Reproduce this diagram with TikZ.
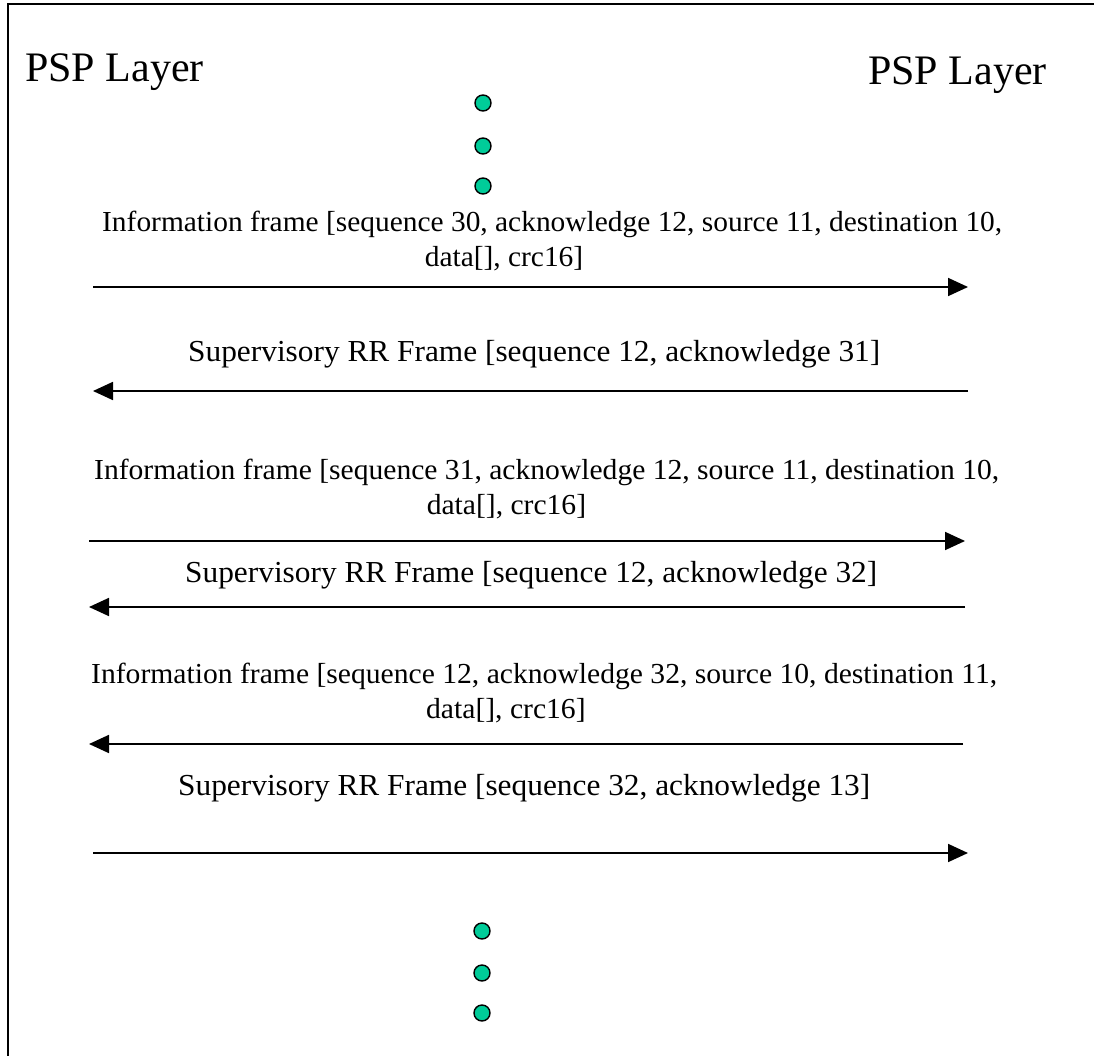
\documentclass[tikz,border=0pt]{standalone}
\usepackage{fontspec}
\usepackage{graphicx}
\setmainfont{Liberation Serif}
\usetikzlibrary{arrows.meta}

\definecolor{dotfill}{RGB}{0,204,153}

% a label set to a given width, first baseline kept
\newcommand{\widelabel}[2]{%
  \resizebox{#1}{\height}{\begin{tabular}[t]{@{}l@{}}#2\end{tabular}}}

\tikzset{
  frameline/.style={line width=2.8pt, black},
  layer/.style={font=\fontsize{42}{46}\selectfont, inner sep=0pt, anchor=base west},
  infomsg/.style={font=\fontsize{29}{35}\selectfont, inner sep=0pt, anchor=base west},
  supmsg/.style={font=\fontsize{30.5}{35}\selectfont, inner sep=0pt, anchor=base west},
  msgarrow/.style={line width=1.8pt, -{Triangle[length=20pt,width=18pt]}},
  ellipsisdot/.style={circle, draw=black, line width=1.4pt, fill=dotfill,
                      minimum size=16pt, inner sep=0pt}
}

\begin{document}
\begin{tikzpicture}[x=1pt, y=-1pt]
  \useasboundingbox (0,0) rectangle (1094,1056);

  % open frame: top and left edges only
  \draw[frameline] (8,1056) -- (8,4) -- (1094,4);

  % layer labels
  \node[layer] (pspL) at (25,82) {PSP Layer};
  \node[layer] (pspR) at (868,85) {PSP Layer};

  % continuation dots, top
  \node[ellipsisdot] (t1) at (483,103) {};
  \node[ellipsisdot] (t2) at (483,146) {};
  \node[ellipsisdot] (t3) at (483,186) {};

  % message 1: information frame, left to right
  \node[infomsg] (m1) at (102,232) {\widelabel{900pt}{Information frame [sequence 30, acknowledge 12, source 11, destination 10,\\ \hspace*{318pt}data[], crc16]}};
  \coordinate (a1s) at (93,287);
  \coordinate (a1e) at (968,287);
  \draw[msgarrow] (a1s) -- (a1e);

  % message 2: supervisory frame, right to left
  \node[supmsg] (m2) at (188,361) {\widelabel{692pt}{Supervisory RR Frame [sequence 12, acknowledge 31]}};
  \coordinate (a2s) at (968,391);
  \coordinate (a2e) at (93,391);
  \draw[msgarrow] (a2s) -- (a2e);

  % message 3: information frame, left to right
  \node[infomsg] (m3) at (94,479) {\widelabel{905pt}{Information frame [sequence 31, acknowledge 12, source 11, destination 10,\\ \hspace*{326pt}data[], crc16]}};
  \coordinate (a3s) at (89,541);
  \coordinate (a3e) at (965,541);
  \draw[msgarrow] (a3s) -- (a3e);

  % message 4: supervisory frame, right to left
  \node[supmsg] (m4) at (185,582) {\widelabel{692pt}{Supervisory RR Frame [sequence 12, acknowledge 32]}};
  \coordinate (a4s) at (965,607);
  \coordinate (a4e) at (89,607);
  \draw[msgarrow] (a4s) -- (a4e);

  % message 5: information frame, right to left
  \node[infomsg] (m5) at (91,683) {\widelabel{906pt}{Information frame [sequence 12, acknowledge 32, source 10, destination 11,\\ \hspace*{328pt}data[], crc16]}};
  \coordinate (a5s) at (963,744);
  \coordinate (a5e) at (89,744);
  \draw[msgarrow] (a5s) -- (a5e);

  % message 6: supervisory frame, left to right
  \node[supmsg] (m6) at (178,795) {\widelabel{692pt}{Supervisory RR Frame [sequence 32, acknowledge 13]}};
  \coordinate (a6s) at (93,853);
  \coordinate (a6e) at (968,853);
  \draw[msgarrow] (a6s) -- (a6e);

  % continuation dots, bottom
  \node[ellipsisdot] (b1) at (482,931) {};
  \node[ellipsisdot] (b2) at (482,973) {};
  \node[ellipsisdot] (b3) at (482,1013) {};
\end{tikzpicture}
\end{document}
